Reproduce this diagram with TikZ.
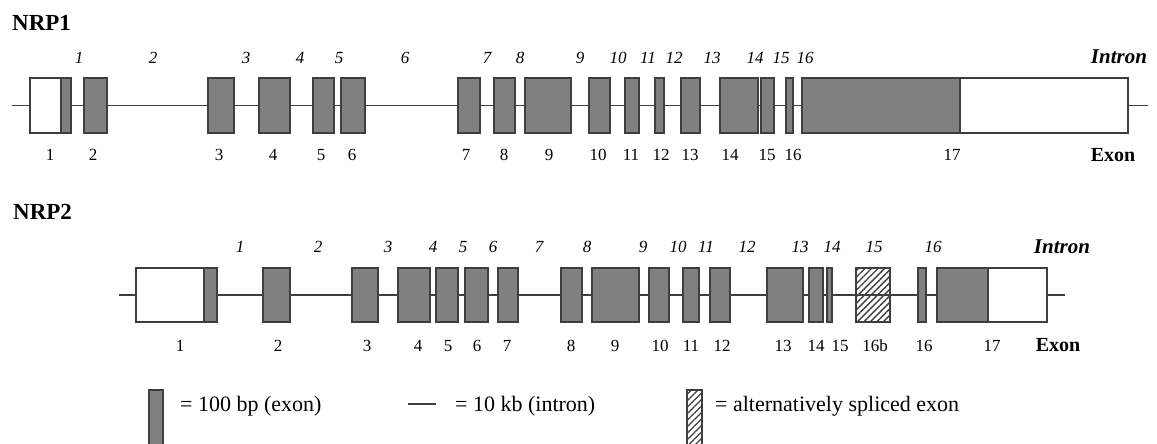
\documentclass[tikz,border=0pt]{standalone}
\usepackage{fontspec}
\setmainfont{Liberation Serif}
\usetikzlibrary{patterns.meta}
\definecolor{exfill}{RGB}{128,128,128}
\definecolor{exline}{RGB}{62,62,62}
\tikzset{
  exbase/.style={draw=exline, line width=1.4pt, inner sep=0pt, outer sep=0pt, anchor=west},
  exon/.style={exbase, fill=exfill},
  utr/.style={exbase, fill=white},
  alt/.style={exbase, fill=white, pattern={Lines[angle=45,distance=4.6pt,line width=1.3pt]}, pattern color=exline},
  rowa/.style={minimum height=55pt},
  rowb/.style={minimum height=54pt},
  legbar/.style={minimum height=56pt},
  intronline/.style={draw=exline, line width=1.6pt},
  exlab/.style={font=\fontsize{17}{17}\selectfont, inner sep=0pt},
  inlab/.style={font=\fontsize{17}{17}\selectfont\itshape, inner sep=0pt},
  title/.style={font=\fontsize{23}{23}\selectfont\bfseries, inner sep=0pt, anchor=west},
  exonhead/.style={font=\fontsize{20}{20}\selectfont\bfseries, inner sep=0pt},
  intronhead/.style={font=\fontsize{21}{21}\selectfont\bfseries\itshape, inner sep=0pt},
  legtext/.style={font=\fontsize{22}{22}\selectfont, inner sep=0pt, anchor=base west}
}
\newcommand\exbox[5]{\pgfmathsetmacro\exw{#4-#3}\node[#1, minimum width=\exw pt] (#2) at (#3,#5) {};}
\begin{document}
\begin{tikzpicture}[x=1pt,y=-1pt]
\useasboundingbox (0,0) rectangle (1157,444);

% ---------------- NRP1 ----------------
\node[title] (t1) at (12,23) {NRP1};
\coordinate (s1) at (12,105.5);
\coordinate (f1) at (1148,105.5);
\draw[intronline] (s1) -- (f1);
\exbox{utr,rowa}{a1u}{30}{71}{105.5}
\exbox{exon,rowa}{a1}{61}{71}{105.5}
\exbox{exon,rowa}{a2}{84}{107}{105.5}
\exbox{exon,rowa}{a3}{208}{234}{105.5}
\exbox{exon,rowa}{a4}{259}{290}{105.5}
\exbox{exon,rowa}{a5}{313}{334}{105.5}
\exbox{exon,rowa}{a6}{341}{365}{105.5}
\exbox{exon,rowa}{a7}{458}{480}{105.5}
\exbox{exon,rowa}{a8}{494}{515}{105.5}
\exbox{exon,rowa}{a9}{525}{571}{105.5}
\exbox{exon,rowa}{a10}{589}{610}{105.5}
\exbox{exon,rowa}{a11}{625}{639}{105.5}
\exbox{exon,rowa}{a12}{655}{664}{105.5}
\exbox{exon,rowa}{a13}{681}{700}{105.5}
\exbox{exon,rowa}{a14}{720}{758}{105.5}
\exbox{exon,rowa}{a15}{761}{774}{105.5}
\exbox{exon,rowa}{a16}{786}{793}{105.5}
\exbox{utr,rowa}{a17u}{802}{1128}{105.5}
\exbox{exon,rowa}{a17}{802}{960}{105.5}

% intron numbers
\foreach \n/\x in {1/79,2/153,3/246,4/300,5/339,6/405,7/487,8/520,9/580,10/618,11/648,12/674,13/712,14/755,15/781,16/805}
  \node[inlab] (ai\n) at (\x,58) {\n};
\node[intronhead] (aih) at (1119,57) {Intron};
% exon numbers
\foreach \n/\x in {1/50,2/93,3/219,4/273,5/321,6/352,7/466,8/504,9/549,10/598,11/631,12/661,13/690,14/730,15/767,16/793,17/952}
  \node[exlab] (ae\n) at (\x,155) {\n};
\node[exonhead] (aeh) at (1113,155) {Exon};

% ---------------- NRP2 ----------------
\node[title] (t2) at (13,212) {NRP2};
\coordinate (s2) at (119,295);
\coordinate (f2) at (1065,295);
\draw[intronline] (s2) -- (f2);
\exbox{utr,rowb}{b1u}{136}{217}{295}
\exbox{exon,rowb}{b1}{204}{217}{295}
\exbox{exon,rowb}{b2}{263}{290}{295}
\exbox{exon,rowb}{b3}{352}{378}{295}
\exbox{exon,rowb}{b4}{398}{430}{295}
\exbox{exon,rowb}{b5}{436}{458}{295}
\exbox{exon,rowb}{b6}{465}{488}{295}
\exbox{exon,rowb}{b7}{498}{518}{295}
\exbox{exon,rowb}{b8}{561}{582}{295}
\exbox{exon,rowb}{b9}{592}{639}{295}
\exbox{exon,rowb}{b10}{649}{669}{295}
\exbox{exon,rowb}{b11}{683}{699}{295}
\exbox{exon,rowb}{b12}{710}{730}{295}
\exbox{exon,rowb}{b13}{767}{803}{295}
\exbox{exon,rowb}{b14}{809}{823}{295}
\exbox{exon,rowb}{b15}{827}{832}{295}
\exbox{alt,rowb}{b16b}{856}{890}{295}
\exbox{exon,rowb}{b16}{918}{926}{295}
\exbox{utr,rowb}{b17u}{937}{1047}{295}
\exbox{exon,rowb}{b17}{937}{988}{295}

\foreach \n/\x in {1/240,2/318,3/388,4/433,5/463,6/493,7/539,8/587,9/643,10/678,11/706,12/747,13/800,14/832,15/874,16/933}
  \node[inlab] (bi\n) at (\x,247) {\n};
\node[intronhead] (bih) at (1062,247) {Intron};
\foreach \n/\x in {1/180,2/278,3/367,4/418,5/448,6/477,7/507,8/571,9/615,10/660,11/691,12/722,13/783,14/816,15/840,16b/875,16/924,17/992}
  \node[exlab] (be\n) at (\x,346) {\n};
\node[exonhead] (beh) at (1058,345) {Exon};

% ---------------- legend ----------------
\exbox{exon,legbar}{lg1}{149}{163}{418}
\node[legtext] (lt1) at (180,411) {= 100 bp (exon)};
\coordinate (lgs) at (408,404);
\coordinate (lge) at (436,404);
\draw[intronline] (lgs) -- (lge);
\node[legtext] (lt2) at (455,411) {= 10 kb (intron)};
\exbox{alt,legbar}{lg3}{687}{702}{418}
\node[legtext] (lt3) at (715,411) {= alternatively spliced exon};
\end{tikzpicture}
\end{document}
